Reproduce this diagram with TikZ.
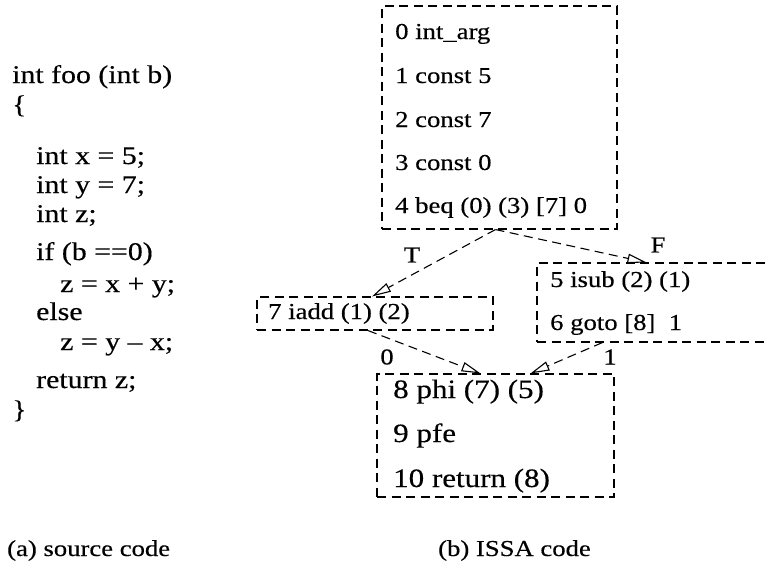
\documentclass[tikz,border=0pt]{standalone}
\usepackage{fontspec}
\usepackage{graphicx}
\setmainfont{Liberation Serif}[FakeBold=0.35]
\usetikzlibrary{arrows.meta,calc}
\newcommand\sx[1]{\scalebox{1.17}[1]{#1}}
\begin{document}
\begin{tikzpicture}[x=1pt,y=1pt,
  box/.style={draw, dash pattern=on 9pt off 5.5pt, line width=1.1pt, inner sep=0pt, rectangle},
  txt/.style={anchor=base west, inner sep=0pt, font=\fontsize{22.8}{26}\selectfont},
  ptxt/.style={anchor=base west, inner sep=0pt, font=\fontsize{26.5}{30}\selectfont},
  ctxt/.style={anchor=base west, inner sep=0pt, font=\fontsize{25.5}{29}\selectfont},
  lbl/.style={inner sep=0pt, font=\fontsize{22.8}{26}\selectfont},
  conn/.style={dash pattern=on 9pt off 5.5pt, line width=1.1pt, -{Triangle[open, length=19pt, width=9.5pt, line width=1.1pt]}}]
\useasboundingbox (0,0) rectangle (768,-581);
\begin{scope}
\clip (0,0) rectangle (768,-581);
% source code
\node[ctxt] (s1) at (12,-83) {\sx{int foo (int b)}};
\node[ctxt] (s2) at (12,-113) {\sx{\{}};
\node[ctxt] (s3) at (36,-164) {\sx{int x = 5;}};
\node[ctxt] (s4) at (36,-193) {\sx{int y = 7;}};
\node[ctxt] (s5) at (36,-222) {\sx{int z;}};
\node[ctxt] (s6) at (36,-260) {\sx{if (b ==0)}};
\node[ctxt] (s7) at (60,-292) {\sx{z = x + y;}};
\node[ctxt] (s8) at (36,-320) {\sx{else}};
\node[ctxt] (s9) at (60,-350) {\sx{z = y – x;}};
\node[ctxt] (s10) at (36,-388) {\sx{return z;}};
\node[ctxt] (s11) at (12,-418) {\sx{\}}};
% boxes
\node[box, minimum width=235pt, minimum height=223pt] (b0) at (499.5,-117.5) {};
\node[box, minimum width=236pt, minimum height=33pt] (b7) at (375,-313.5) {};
\node[box, minimum width=263pt, minimum height=79pt] (b5) at (668.5,-302.5) {};
\node[box, minimum width=237pt, minimum height=123pt] (b8) at (495.5,-435.5) {};
% box texts
\node[txt] (t0) at (395,-39) {\sx{0 int\_arg}};
\node[txt] (t1) at (395,-83) {\sx{1 const 5}};
\node[txt] (t2) at (395,-127) {\sx{2 const 7}};
\node[txt] (t3) at (395,-170) {\sx{3 const 0}};
\node[txt] (t4) at (395,-213) {\sx{4 beq (0) (3) [7] 0}};
\node[txt] (t7) at (268,-319) {\sx{7 iadd (1) (2)}};
\node[txt] (t5) at (550,-287) {\sx{5 isub (2) (1)}};
\node[txt] (t6) at (550,-330) {\sx{6 goto [8]\ \ 1}};
\node[ptxt] (t8) at (393,-398) {\sx{8 phi (7) (5)}};
\node[ptxt] (t9) at (393,-442) {\sx{9 pfe}};
\node[ptxt] (t10) at (393,-487) {\sx{10 return (8)}};
% connectors
\draw[conn] ($(b0.south)+(-4,0)$) -- ($(b7.north)+(-3,0)$);
\draw[conn] ($(b0.south)+(-4,0)$) -- ($(b5.north west)+(110,0)$);
\draw[conn] ($(b7.south)+(-7,0)$) -- ($(b8.north)+(-15,0)$);
\draw[conn] ($(b5.south west)+(66,0)$) -- ($(b8.north)+(35,0)$);
% labels
\node[lbl] (lT) at (412,-255) {\sx{T}};
\node[lbl] (lF) at (658,-245) {\sx{F}};
\node[lbl] (l0) at (387,-357) {\sx{0}};
\node[lbl] (l1) at (610,-357) {\sx{1}};
% captions
\node[txt] (ca) at (7,-556) {\sx{(a) source code}};
\node[txt] (cb) at (438,-556) {\sx{(b) ISSA code}};
\end{scope}
\end{tikzpicture}
\end{document}
